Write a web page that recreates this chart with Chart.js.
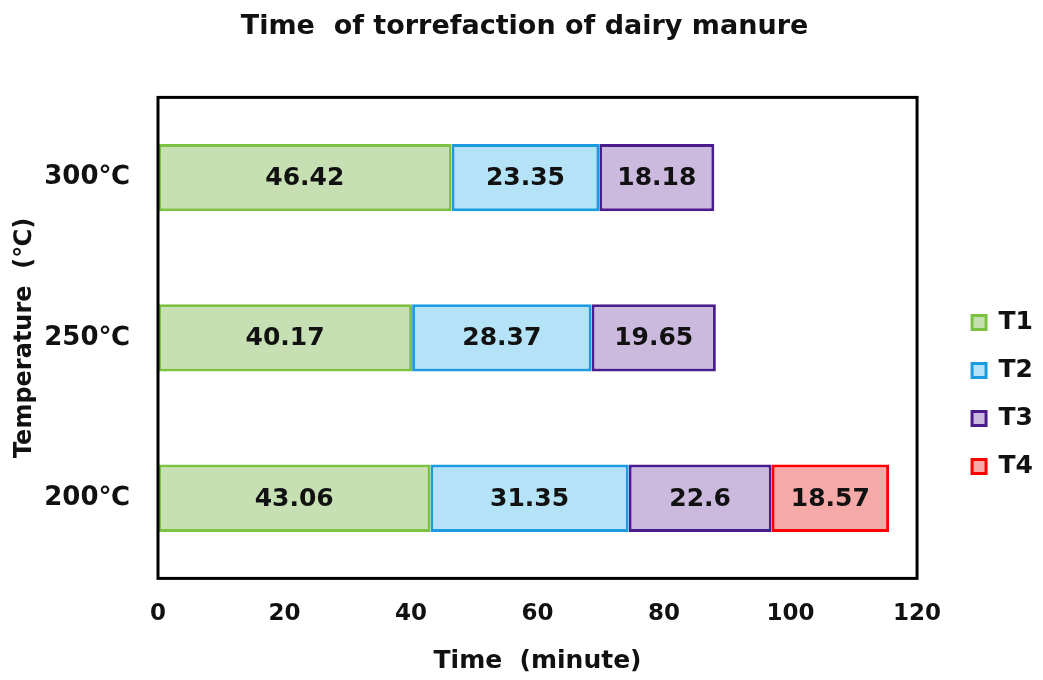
<!DOCTYPE html>
<html>
<head>
<meta charset="utf-8">
<script src="https://cdn.jsdelivr.net/npm/chart.js@4.4.0/dist/chart.umd.min.js"></script>
<style>
  html, body { margin: 0; padding: 0; background: #fff; }
  #wrap { width: 1043px; height: 680px; }
</style>
</head>
<body>
<div id="wrap"><canvas id="chart"></canvas></div>
<script>
// data
const temperatures = ['300℃', '250℃', '200℃'];
const t1 = [46.42, 40.17, 43.06];
const t2 = [23.35, 28.37, 31.35];
const t3 = [18.18, 19.65, 22.6];
const t4 = [null, null, 18.57];
const seriesNames = ['T1', 'T2', 'T3', 'T4'];

const fillColors = ['#c6e0b4', '#b4e2f7', '#ccb9de', '#f6a9a9'];
const lineColors = ['#7cc242', '#1d9be0', '#4a1c8c', '#ff0000'];
const FONT = "'DejaVu Sans', sans-serif";

// black frame around the plot area
const frame = {
    id: 'frame',
    afterDraw(chart) {
        const a = chart.chartArea;
        const ctx = chart.ctx;
        ctx.save();
        ctx.strokeStyle = '#000';
        ctx.lineWidth = 3;
        ctx.strokeRect(a.left, a.top, a.right - a.left, a.bottom - a.top);
        ctx.restore();
    }
};

// value labels in the middle of each segment
const valueLabels = {
    id: 'valueLabels',
    afterDatasetsDraw(chart) {
        const ctx = chart.ctx;
        ctx.save();
        ctx.font = 'bold 25px ' + FONT;
        ctx.fillStyle = '#111';
        ctx.textAlign = 'center';
        ctx.textBaseline = 'middle';
        chart.data.datasets.forEach((ds, i) => {
            chart.getDatasetMeta(i).data.forEach((bar, j) => {
                const v = ds.data[j];
                if (v == null) return;
                const p = bar.getProps(['x', 'y', 'base'], true);
                ctx.fillText(String(v), (p.x + p.base) / 2, p.y + 1);
            });
        });
        ctx.restore();
    }
};

const allSeries = [t1, t2, t3, t4];
const datasets = allSeries.map((vals, i) => ({
    label: seriesNames[i],
    data: vals,
    backgroundColor: fillColors[i],
    borderColor: lineColors[i],
    borderWidth: 3,
    borderSkipped: false,
    barPercentage: 0.84,
    categoryPercentage: 0.5
}));

new Chart(document.getElementById('chart'), {
    type: 'bar',
    data: { labels: temperatures, datasets: datasets },
    plugins: [frame, valueLabels],
    options: {
        indexAxis: 'y',
        responsive: true,
        maintainAspectRatio: false,
        animation: false,
        layout: { padding: { left: 6, right: 0, top: 7, bottom: 0 } },
        plugins: {
            title: {
                display: true,
                text: 'Time  of torrefaction of dairy manure',
                color: '#111',
                font: { family: FONT, size: 27, weight: 'bold' },
                padding: { top: 4, bottom: 54 }
            },
            legend: {
                position: 'right',
                title: {
                    display: true,
                    text: '',
                    font: { size: 10 },
                    padding: { top: 0, bottom: 90 }
                },
                labels: {
                    color: '#111',
                    font: { family: FONT, size: 25, weight: 'bold' },
                    boxWidth: 14,
                    boxHeight: 14,
                    padding: 23
                }
            },
            tooltip: { enabled: false }
        },
        scales: {
            x: {
                stacked: true,
                min: 0,
                max: 120,
                grid: { display: false },
                border: { display: false },
                ticks: {
                    stepSize: 20,
                    color: '#111',
                    padding: 14,
                    font: { family: FONT, size: 23, weight: 'bold' }
                },
                title: {
                    display: true,
                    text: 'Time  (minute)',
                    color: '#111',
                    font: { family: FONT, size: 25, weight: 'bold' }
                }
            },
            y: {
                stacked: true,
                grid: { display: false },
                border: { display: false },
                ticks: {
                    color: '#111',
                    padding: 20,
                    font: { family: FONT, size: 26, weight: 'bold' }
                },
                title: {
                    display: true,
                    text: 'Temperature  (℃)',
                    color: '#111',
                    font: { family: FONT, size: 24, weight: 'bold' }
                },
                afterFit(scale) { scale.width = 152; }
            },
            // empty spacer between the plot frame and the legend
            gap: {
                type: 'linear',
                axis: 'y',
                position: 'right',
                grid: { display: false },
                border: { display: false },
                ticks: { display: false },
                afterFit(scale) { scale.width = 32; }
            }
        }
    }
});
</script>
</body>
</html>
